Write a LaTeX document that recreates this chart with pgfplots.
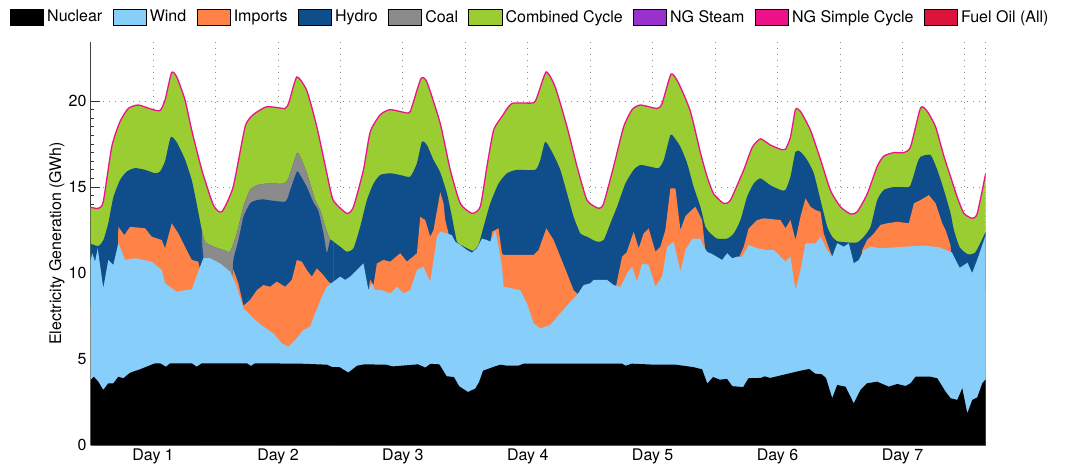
\documentclass[border=0pt]{standalone}
\usepackage{fontspec}
\setmainfont{TeX Gyre Heros}
\usepackage{pgfplots}
\usepackage{pgfplotstable}
\pgfplotsset{compat=1.18}

\definecolor{nuclear}{RGB}{0,0,0}
\definecolor{wind}{RGB}{135,206,250}
\definecolor{imports}{RGB}{255,130,71}
\definecolor{hydro}{RGB}{16,78,139}
\definecolor{coal}{RGB}{139,139,139}
\definecolor{cc}{RGB}{154,205,50}
\definecolor{ngsteam}{RGB}{153,50,204}
\definecolor{ngsc}{RGB}{238,18,137}
\definecolor{fueloil}{RGB}{220,20,60}

\newcommand{\lf}{\fontsize{16}{19}\selectfont}

\pgfplotsset{
  layers/gridbelow/.define layer set={axis background,axis grid,pre main,main,axis ticks,axis lines,axis tick labels,axis descriptions,axis foreground}{},
}

% stack tops (GWh), hours from start of week
\pgfplotstableread{
h v
0 13.82
1.46 13.76
2.42 14.15
4.04 17.34
5.63 18.8
7.23 19.57
9.15 19.77
11.73 19.52
13.33 19.45
14.29 20.06
15.54 21.65
16.54 21.4
18.13 20.06
19.42 18.3
21.35 16.0
23.58 13.95
25.19 13.56
27.37 15.0
29.67 18.5
31.21 19.2
33.85 19.67
37.37 19.57
38.13 19.96
39.62 21.4
41.54 20.6
43.46 18.5
45.38 15.8
46.6 14.24
49.23 13.47
50.5 13.85
52.42 16.0
53.71 18.2
55.63 19.2
57.56 19.5
61.08 19.3
61.73 19.67
63.46 21.3
64.62 21.1
67.17 18.7
69.1 16.0
71.02 14.05
73.27 13.47
74.87 13.86
76.15 16.2
77.42 18.3
79.04 19.1
80.96 19.86
85.12 19.9
86.08 20.5
87.56 21.7
89.29 20.8
91.54 18.5
93.46 16.2
95.38 14.24
97.62 13.76
98.58 14.05
100.5 16.2
102.42 18.5
104.04 19.5
105.63 19.77
108.85 19.57
109.81 19.86
111.54 21.57
113.0 21.03
115.25 19.4
117.17 17.0
118.46 15.6
119.73 14.6
121.65 14.05
122.94 14.24
125.5 16.0
127.12 17.3
128.71 17.8
130.63 17.44
132.56 17.2
133.52 17.2
134.48 17.9
135.44 19.5
136.4 19.4
138.33 18.3
140.25 16.6
142.17 14.8
144.1 13.85
146.02 13.43
147.31 13.56
149.23 14.6
151.15 16.2
152.42 16.8
154.35 17.0
156.27 17.0
157.56 17.34
159.48 19.6
160.77 19.4
162.37 18.5
163.96 16.8
165.25 15.6
166.54 14.4
167.81 13.47
169.42 13.18
170.38 13.47
172 15.8
}\tot

\pgfplotstableread{
h v
0 11.7
1.46 11.57
2.42 11.9
3.38 12.9
4.35 14.4
5.63 15.4
6.92 15.9
8.52 16.1
10.44 16.0
12.37 15.8
13.33 15.9
14.29 16.5
15.38 17.9
16.54 17.6
18.13 16.6
19.42 15.4
20.38 14.0
21.35 12.5
21.98 11.82
23.58 11.53
25.5 11.34
26.79 11.24
28.08 12.3
29.35 13.85
30.63 14.83
31.92 15.1
33.85 15.2
37.04 15.2
38.0 15.5
39.62 16.96
40.25 16.76
41.54 15.8
43.13 14.24
44.1 13.66
45.06 12.69
45.5 12.3
46.02 11.95
46.65 11.82
47.94 11.53
49.23 11.24
50.5 11.44
51.79 12.69
53.08 14.24
54.35 15.2
55.63 15.7
57.56 15.8
59.48 15.7
61.4 15.6
62.69 16.38
63.65 17.63
64.62 17.44
65.88 16.57
67.17 15.85
68.46 14.63
69.42 13.27
70.38 11.82
71.35 11.6
72.94 11.35
73.58 11.3
74.54 11.65
75.5 12.69
76.79 14.05
78.38 15.2
80.0 15.8
81.92 16.0
85.44 16.0
86.4 16.57
87.37 17.63
88.96 16.86
90.25 16.0
91.54 14.63
92.81 13.27
94.1 12.3
95.38 12.11
97.31 11.82
98.58 11.92
99.87 12.89
101.15 13.85
102.75 15.2
104.35 16.0
105.63 16.28
107.56 16.18
109.15 16.1
110.12 16.57
111.4 18.02
112.04 17.92
113.33 17.34
114.62 16.38
115.88 15.0
117.17 13.85
118.13 12.69
119.1 12.3
120.38 12.0
122.31 12.0
123.58 12.3
124.87 13.08
126.15 14.44
127.42 15.2
128.71 15.5
130.63 15.1
132.56 14.83
133.52 14.83
134.48 15.6
135.44 17.05
136.4 17.05
137.69 16.57
138.96 15.8
140.25 14.24
141.54 12.69
142.5 12.11
143.46 11.85
145.38 11.78
147.31 11.78
148.58 12.11
149.87 12.69
151.15 14.24
152.42 14.83
154.35 15.0
157.23 15.0
157.88 15.4
158.85 16.38
159.48 16.76
161.4 16.86
162.69 16.0
163.96 14.83
165.25 13.47
165.88 12.5
167.0 11.5
168.5 11.1
170.0 11.2
172 12.4
}\hyd

% hydro top under the coal band
\pgfplotstableread{
h v
21.35 12.5
21.98 10.4
26.79 9.0
27.42 10.76
28.38 11.9
29.35 13.27
30.63 14.05
31.92 14.24
33.19 14.28
37.37 14.15
38.33 14.83
39.62 15.89
40.25 15.7
41.54 15.0
42.81 14.1
43.77 13.6
44.73 12.3
45.38 11.18
46.02 11.92
46.65 11.82
}\hydb

\pgfplotstableread{
h v
0 8
5.0 8
5.2 11.0
5.31 12.69
6.46 12.2
7.56 12.69
10.44 12.6
11.73 12.11
13.65 11.92
14.29 11.44
15.58 12.89
16.85 12.3
18.13 11.53
19.42 10.76
20.69 10.66
21.0 10.2
21.5 8
26.5 8.5
27.42 10.2
28.38 9.4
29.35 8.1
30.63 8.43
31.92 9.0
33.19 9.3
34.48 9.2
35.77 9.5
37.37 9.2
38.65 9.6
39.62 10.76
40.58 10.66
41.54 10.17
42.5 9.79
43.46 10.27
44.42 9.98
45.69 9.5
46.65 9.3
47.5 8.5
52.5 8.5
53.38 9.0
53.71 9.6
54.35 9.3
55.0 10.56
56.27 10.76
57.56 10.66
59.48 11.15
60.77 10.66
62.69 11.15
63.33 13.27
64.29 13.08
65.25 12.11
65.88 12.5
67.17 14.7
67.81 14.05
68.13 13.08
68.77 12.3
69.1 11.5
69.5 10
76.5 9
76.9 11.9
77.12 12.4
78.38 12.6
79.04 11.15
79.35 11.05
85.12 11.05
86.08 11.34
87.56 12.6
88.96 11.92
90.25 10.95
91.54 9.98
92.81 9.0
93.77 8.72
94.5 7.5
100.5 7.5
101.0 9.3
101.46 9.98
102.12 10.95
103.0 11.2
104.35 12.4
105.31 11.44
106.27 12.3
107.23 12.6
108.52 11.24
109.48 11.53
110.44 12.5
111.4 14.92
112.37 14.92
113.33 12.5
114.29 13.3
115.25 13.6
116.21 13.85
117.5 13.08
118.13 11.24
118.5 9.5
124.0 9.5
124.54 10.86
125.5 11.53
126.46 12.6
128.08 13.08
129.35 13.18
131.27 13.12
132.56 13.08
133.52 12.6
134.48 13.08
135.44 11.92
136.4 13.27
137.37 14.34
138.33 13.85
139.29 13.66
140.25 13.56
140.88 12.3
141.54 11.73
142.5 10.95
143.0 9.5
147.5 9.5
148.27 11.34
149.23 11.92
150.5 12.3
151.79 12.8
153.08 12.89
155.0 12.98
157.23 12.89
158.19 14.05
159.48 14.24
161.08 14.53
162.37 14.05
163.65 12.89
164.29 12.5
165.25 11.6
165.6 9.5
172 9
}\imp

\pgfplotstableread{
h v
0 10.76
0.31 11.15
0.83 10.66
1.35 11.44
2.42 9.11
3.38 10.76
4.35 10.47
5.31 11.73
5.63 11.53
6.6 10.76
8.52 10.86
11.73 10.66
13.65 10.17
14.29 9.4
15.58 9.11
16.54 8.91
18.13 9.0
19.42 9.05
21.02 10.37
21.65 10.86
22.94 10.86
24.87 10.56
26.79 10.08
28.08 9.2
29.35 7.95
31.27 7.36
33.19 6.88
35.12 6.49
36.73 5.91
38.0 5.72
39.29 6.1
40.88 6.69
42.17 6.88
43.13 7.66
44.42 8.62
45.38 9.2
46.65 9.5
47.94 9.79
48.9 9.6
49.87 9.79
51.15 10.17
52.42 10.56
53.38 9.0
54.04 9.4
54.67 9.0
55.96 9.0
57.56 8.82
58.85 9.2
60.12 8.82
61.4 9.0
62.69 10.17
63.96 10.37
65.25 9.5
66.54 12.11
67.17 12.4
68.46 12.3
69.42 12.2
70.06 11.82
71.02 11.63
72.31 11.34
73.27 11.18
74.23 11.44
75.19 12.0
76.15 11.92
76.79 11.82
77.75 12.5
78.38 11.53
79.04 10.37
79.35 9.2
80.96 9.11
82.56 9.0
83.85 8.24
85.12 7.07
86.4 6.78
88.33 6.98
90.25 7.66
92.17 8.33
93.46 8.72
94.73 9.3
96.02 9.4
96.65 9.6
99.23 9.6
100.5 9.3
101.79 9.2
103.08 9.98
104.04 10.37
105.0 9.5
105.96 10.56
107.23 10.47
108.52 9.2
109.81 9.79
110.77 11.53
112.04 11.82
113.33 10.08
114.29 11.34
115.25 11.82
115.58 12.0
117.17 12.0
117.81 11.53
118.46 11.24
119.73 11.05
121.35 10.76
122.31 11.15
123.27 10.86
124.23 10.95
125.19 10.95
126.46 11.63
128.08 11.44
130.0 11.34
131.27 11.34
132.56 10.95
133.52 10.66
134.48 10.95
135.44 9.0
136.4 10.17
137.37 11.73
139.29 11.73
140.25 12.11
141.54 11.34
142.5 10.95
143.46 11.73
144.73 11.53
145.69 11.73
146.65 10.56
147.62 10.76
148.58 11.34
149.87 11.53
151.79 11.44
155 11.5
160 11.6
163 11.5
165.5 11.2
167 10.3
168.5 10.6
169.4 10.0
170.4 10.8
172 12.2
}\wnd

\pgfplotstableread{
h v
0 3.78
0.6 3.97
1.46 3.68
2.42 3.2
3.38 3.59
4.35 3.59
5.31 3.97
6.27 3.88
7.56 4.2
9.48 4.4
12.37 4.75
13.33 4.75
14.48 4.55
15.25 4.75
19.42 4.75
20.38 4.55
21.35 4.75
30 4.75
30.8 4.6
31.6 4.75
40.25 4.73
45.4 4.67
46.4 4.53
47.8 4.53
49.5 4.21
51.2 4.61
52.6 4.69
56.7 4.67
58.1 4.57
62.9 4.69
64.3 4.5
65.3 4.72
67.0 4.69
68.4 4.0
69.8 3.95
70.8 3.42
72.5 3.08
73.9 3.28
74.6 3.63
75.4 4.32
77.3 4.53
78.7 4.67
80.1 4.61
82.2 4.61
83.2 4.73
102.1 4.73
102.8 4.61
104 4.73
108.3 4.67
112.4 4.67
115.8 4.53
117.5 4.4
118.5 3.57
119.6 3.95
120.9 3.8
122.3 3.84
123.3 3.42
125.4 3.37
126.4 3.88
128.8 3.9
129.5 3.99
130.6 3.9
136.4 4.32
138.1 4.42
139.2 4.15
140.5 4.11
141.3 3.9
142.5 2.72
143.46 3.49
145.06 3.39
146.65 2.42
147.94 3.2
149.23 3.59
151.15 3.68
153.38 3.39
155 3.55
156.6 3.43
157.56 3.59
158.52 3.97
161.4 3.97
162.69 3.88
164.29 3.1
165.25 2.72
166.54 2.62
167.5 3.3
168.46 1.84
169.42 2.62
170.38 2.77
171.35 3.59
172 3.82
}\nuc

\begin{document}
\begin{tikzpicture}
\begin{axis}[
  set layers=gridbelow,
  scale only axis, width=895pt, height=403.3pt,
  xmin=0, xmax=172, ymin=0, ymax=23.45,
  axis x line*=bottom, axis y line*=left,
  axis line style={-, draw=black!75, line width=0.8pt},
  xtick={12,36,60,84,108,132,156},
  xticklabels={Day 1,Day 2,Day 3,Day 4,Day 5,Day 6,Day 7},
  extra x ticks={24,48,72,96,120,144,168,172},
  extra x tick labels={},
  extra x tick style={grid=major, major tick length=0pt},
  xtick style={draw=none},
  ytick={0,5,10,15,20},
  minor y tick num=9,
  tick align=inside,
  major tick length=9pt, minor tick length=3.5pt,
  ytick style={draw=black!80, line width=0.8pt},
  minor tick style={draw=black!60, line width=0.6pt},
  grid=major,
  major grid style={draw=black!45, line width=1pt, dash pattern=on 1pt off 5pt},
  /pgf/number format/assume math mode=true,
  tick label style={font=\lf},
  yticklabel style={inner xsep=4pt},
  ylabel={Electricity Generation (GWh)},
  every axis y label/.style={at={(axis description cs:-0.0377,0.5)}, rotate=90, anchor=center, font=\lf},
  legend columns=-1,
  legend image code/.code={\fill[#1] (0pt,-7.85pt) rectangle (33.3pt,7.85pt);},
  legend style={at={(0,1)}, anchor=west, xshift=-80.7pt, yshift=24.8pt,
    draw=none, fill=none, inner sep=0pt, outer sep=0pt,
    nodes={inner xsep=3.5pt, inner ysep=0pt},
    /tikz/every even column/.append style={column sep=6.8pt}},
]
\addlegendimage{fill=nuclear}\addlegendentry{\lf Nuclear}
\addlegendimage{fill=wind}\addlegendentry{\lf Wind}
\addlegendimage{fill=imports}\addlegendentry{\lf Imports}
\addlegendimage{fill=hydro}\addlegendentry{\lf Hydro}
\addlegendimage{fill=coal}\addlegendentry{\lf Coal}
\addlegendimage{fill=cc}\addlegendentry{\lf Combined Cycle}
\addlegendimage{fill=ngsteam}\addlegendentry{\lf NG Steam}
\addlegendimage{fill=ngsc}\addlegendentry{\lf NG Simple Cycle}
\addlegendimage{fill=fueloil}\addlegendentry{\lf Fuel Oil (All)}

\addplot[forget plot, fill=cc, draw=none, smooth, tension=0.35] table {\tot} \closedcycle;
\addplot[forget plot, draw=ngsc, line width=1.3pt, smooth, tension=0.35] table {\tot};
\addplot[forget plot, fill=hydro, draw=none, smooth, tension=0.35] table {\hyd} \closedcycle;
\addplot[forget plot, fill=coal, draw=none, smooth, tension=0.35, restrict x to domain=21.3:46.7] table {\hyd} \closedcycle;
\addplot[forget plot, fill=hydro, draw=none, smooth, tension=0.35] table {\hydb} \closedcycle;
\addplot[forget plot, fill=imports, draw=none] table {\imp} \closedcycle;
\addplot[forget plot, fill=wind, draw=none] table {\wnd} \closedcycle;
\addplot[forget plot, fill=nuclear, draw=none] table {\nuc} \closedcycle;
\end{axis}
\pgfresetboundingbox
\path[use as bounding box] (-90.7pt,-27pt) rectangle (985.3pt,445pt);
\end{tikzpicture}
\end{document}
